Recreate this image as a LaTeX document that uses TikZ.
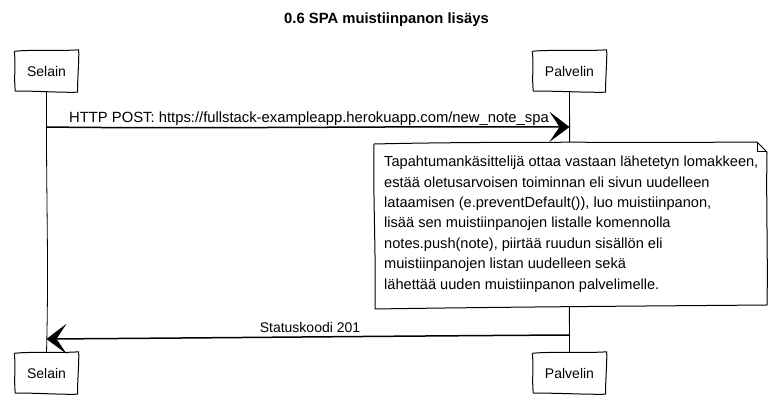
\documentclass[tikz,border=0pt]{standalone}
\usepackage{fontspec}
\setmainfont{Liberation Sans}
\usetikzlibrary{arrows.meta}
\newcommand\sketchbox[1]{%
  \draw[boxline] ([shift={(-0.5,1)}]#1.north west)
    .. controls ([shift={(20,-1)}]#1.north west) and ([shift={(-20,1)}]#1.north east) .. ([shift={(0.5,-0.5)}]#1.north east)
    .. controls ([shift={(1,12)}]#1.north east) and ([shift={(-1,-12)}]#1.south east) .. ([shift={(-0.5,0.5)}]#1.south east)
    .. controls ([shift={(-20,1)}]#1.south east) and ([shift={(20,-1)}]#1.south west) .. ([shift={(0.5,-0.5)}]#1.south west)
    .. controls ([shift={(-1,-12)}]#1.south west) and ([shift={(1,12)}]#1.north west) .. ([shift={(-0.5,1)}]#1.north west);}
\begin{document}
\begin{tikzpicture}[x=1pt,y=-1pt,
  txt/.style={font=\fontsize{14}{16}\selectfont},
  actor/.style={txt, minimum height=41pt, inner sep=0pt},
  boxline/.style={line width=1pt, line join=round},
  life/.style={line width=0.8pt},
  msg/.style={line width=1.5pt, -{Stealth[length=20pt,width=30pt,inset=10pt]}},
  lbl/.style={txt, inner sep=0pt}]
\useasboundingbox (0,0) rectangle (773,419);
% title
\node[font=\fontsize{14.8}{16}\selectfont\bfseries] (title) at (386.5,20) {0.6 SPA muistiinpanon lisäys};
% actors
\node[actor, minimum width=63pt] (st) at (46.5,71) {Selain};
\node[actor, minimum width=73pt] (pt) at (569.5,71) {Palvelin};
\node[actor, minimum width=63pt] (sb) at (46.5,373) {Selain};
\node[actor, minimum width=73pt] (pb) at (569.5,373) {Palvelin};
\sketchbox{st}\sketchbox{pt}\sketchbox{sb}\sketchbox{pb}
% lifelines
\draw[life] (st.south) .. controls (46,200) and (49,260) .. (sb.north);
\draw[life] (pt.south) .. controls (570,200) and (569,260) .. (pb.north);
% note
\draw[boxline, fill=white] (374,144) .. controls (500,141) and (650,143) .. (757,142)
  -- (767,152) .. controls (766,200) and (768,260) .. (767,305)
  .. controls (650,306) and (500,307) .. (375,309)
  .. controls (376,250) and (373,200) .. (374,144);
\draw[boxline] (757,142) -- (757,152) -- (767,152);
\node[font=\fontsize{14.6}{20.4}\selectfont, align=left, anchor=north west, inner sep=0pt] (note) at (384,156)
{Tapahtumankäsittelijä ottaa vastaan lähetetyn lomakkeen,\\
estää oletusarvoisen toiminnan eli sivun uudelleen\\
lataamisen (e.preventDefault()), luo muistiinpanon,\\
lisää sen muistiinpanojen listalle komennolla\\
notes.push(note), piirtää ruudun sisällön eli\\
muistiinpanojen listan uudelleen sekä\\
lähettää uuden muistiinpanon palvelimelle.};
% messages
\coordinate (m1s) at (st.south |- 0,127);
\coordinate (m1e) at (pt.south |- 0,127);
\draw[msg] (m1s) .. controls (200,129) and (400,126) .. (m1e);
\node[lbl, font=\fontsize{14.8}{16}\selectfont, anchor=base] (l1) at (309,123) {HTTP POST: https://fullstack-exampleapp.herokuapp.com/new\_note\_spa};
\coordinate (m2s) at (pt.south |- 0,335);
\coordinate (m2e) at (st.south |- 0,339);
\draw[msg] (m2s) .. controls (400,336) and (200,338) .. (m2e);
\node[lbl, anchor=base] (l2) at (310,333) {Statuskoodi 201};
\end{tikzpicture}
\end{document}
